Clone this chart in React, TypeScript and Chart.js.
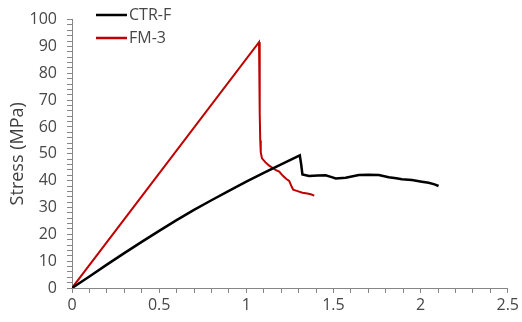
import React, { useEffect, useRef } from "react";
import { Chart, registerables } from "chart.js";

Chart.register(...registerables);

// CTR-F (black) strain / stress
const ctrStrain = [0, 0.1, 0.2, 0.3, 0.4, 0.5, 0.6, 0.7, 0.8, 0.9, 1.0, 1.1, 1.2, 1.307, 1.315, 1.322, 1.36, 1.41, 1.455, 1.49, 1.513, 1.57, 1.646, 1.7, 1.76, 1.817, 1.86, 1.893, 1.95, 2.007, 2.046, 2.08, 2.103];
const ctrStress = [0, 4.3, 8.7, 13.0, 17.2, 21.3, 25.3, 29.1, 32.7, 36.2, 39.6, 42.9, 46.1, 49.4, 46.0, 42.3, 41.7, 41.9, 42.0, 41.3, 40.8, 41.1, 42.1, 42.2, 42.1, 41.3, 40.9, 40.5, 40.2, 39.6, 39.2, 38.6, 38.0];

// FM-3 (red) strain / stress
const fmStrain = [0, 1.073, 1.076, 1.078, 1.08, 1.083, 1.09, 1.11, 1.131, 1.15, 1.17, 1.189, 1.21, 1.23, 1.246, 1.26, 1.269, 1.29, 1.322, 1.35, 1.37, 1.39];
const fmStress = [0, 91.6, 80.0, 65.0, 55.0, 50.5, 48.3, 46.8, 45.6, 44.8, 43.9, 43.4, 41.8, 40.6, 39.9, 37.8, 36.6, 36.2, 35.5, 35.2, 34.9, 34.4];

const seriesNames = ["CTR-F", "FM-3"];
const seriesColors = ["#000000", "#C00000"];
const yTitle = "Stress (MPa)";
const xMax = 2.5;
const yMax = 100;

const FONT = "'Open Sans', sans-serif";
const TEXT = "#474747";
const TITLE = "#404040";
const AXIS = "#868686";

export default function App() {
  const ref = useRef<HTMLCanvasElement | null>(null);

  useEffect(() => {
    document.body.style.margin = "0";
    const canvas = ref.current;
    if (!canvas) return;

    const legendPlugin = {
      id: "insideLegend",
      afterDraw(chart: any) {
        const ctx = chart.ctx;
        ctx.save();
        seriesNames.forEach((name, i) => {
          const y = 15 + i * 23;
          ctx.strokeStyle = seriesColors[i];
          ctx.lineWidth = 2.5;
          ctx.beginPath();
          ctx.moveTo(96, y);
          ctx.lineTo(127, y);
          ctx.stroke();
          ctx.fillStyle = TEXT;
          ctx.font = `16px ${FONT}`;
          ctx.textBaseline = "middle";
          ctx.textAlign = "left";
          ctx.fillText(name, 129, y);
        });
        ctx.restore();
      },
    };

    const chart = new Chart(canvas, {
      type: "scatter",
      data: {
        datasets: [
          {
            label: seriesNames[0],
            data: ctrStrain.map((x, i) => ({ x, y: ctrStress[i] })),
            showLine: true,
            borderColor: seriesColors[0],
            backgroundColor: seriesColors[0],
            borderWidth: 2.5,
            pointRadius: 0,
            tension: 0,
          },
          {
            label: seriesNames[1],
            data: fmStrain.map((x, i) => ({ x, y: fmStress[i] })),
            showLine: true,
            borderColor: seriesColors[1],
            backgroundColor: seriesColors[1],
            borderWidth: 2,
            pointRadius: 0,
            tension: 0,
          },
        ],
      },
      options: {
        responsive: false,
        animation: false,
        layout: { padding: { top: 17, right: 13, left: 0, bottom: 0 } },
        plugins: {
          legend: { display: false },
          tooltip: { enabled: false },
        },
        scales: {
          x: {
            type: "linear",
            min: 0,
            max: xMax,
            border: { color: AXIS, width: 1 },
            grid: { drawOnChartArea: false, color: AXIS, tickLength: 5 },
            ticks: {
              stepSize: 0.1,
              autoSkip: false,
              maxRotation: 0,
              padding: 3,
              color: TEXT,
              font: { family: FONT, size: 16 },
              callback: (v: any) => {
                const n = Math.round(Number(v) * 10);
                return n % 5 === 0 ? String(n / 10) : "";
              },
            },
            afterFit: (s: any) => {
              s.height = 34;
            },
          },
          y: {
            type: "linear",
            min: 0,
            max: yMax,
            border: { color: AXIS, width: 1 },
            grid: { drawOnChartArea: false, color: AXIS, tickLength: 5 },
            title: {
              display: true,
              text: yTitle,
              color: TITLE,
              font: { family: FONT, size: 18 },
              padding: { top: 7, bottom: 0 },
            },
            ticks: {
              stepSize: 2,
              autoSkip: false,
              padding: 10,
              color: TEXT,
              font: { family: FONT, size: 16 },
              callback: (v: any) => {
                const n = Math.round(Number(v));
                return n % 10 === 0 ? String(n) : "";
              },
            },
            afterFit: (s: any) => {
              s.width = 72;
            },
          },
        },
      },
      plugins: [legendPlugin],
    });

    return () => chart.destroy();
  }, []);

  return <canvas ref={ref} width={522} height={322} style={{ display: "block" }} />;
}
